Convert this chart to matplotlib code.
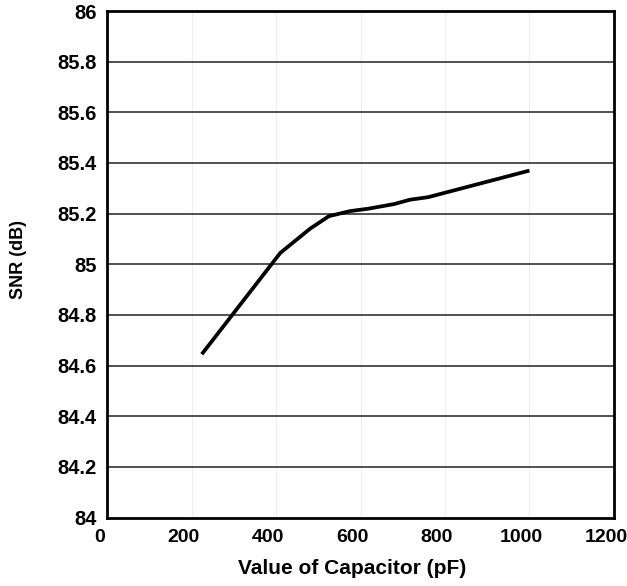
import matplotlib.pyplot as plt
import matplotlib.transforms as mtrans

plt.rcParams["font.family"] = ["Liberation Sans", "DejaVu Sans"]
plt.rcParams["font.weight"] = "bold"

# capacitor value (pF) vs SNR (dB)
cap_pf = [224, 410, 480, 525, 575, 620, 680, 717, 760, 1000]
snr_db = [84.645, 85.045, 85.14, 85.19, 85.21, 85.22, 85.238, 85.255, 85.265, 85.37]

x_ticks = [0, 200, 400, 600, 800, 1000, 1200]
y_ticks = [84, 84.2, 84.4, 84.6, 84.8, 85, 85.2, 85.4, 85.6, 85.8, 86]
y_labels = ["84", "84.2", "84.4", "84.6", "84.8", "85", "85.2", "85.4", "85.6", "85.8", "86"]

fig = plt.figure(figsize=(6.27, 5.86), dpi=100)
ax = fig.add_axes([0.171, 0.1167, 0.808, 0.8645])

# faint vertical grid, dark horizontal grid
for xv in x_ticks[1:-1]:
    ax.axvline(xv, color="#eeeeee", lw=0.8, zorder=0)
for yv in y_ticks[1:-1]:
    ax.axhline(yv, color="#222222", lw=1.1, zorder=1)

ax.plot(cap_pf, snr_db, color="black", lw=2.7, solid_capstyle="butt", zorder=3)

ax.set_xlim(0, 1200)
ax.set_ylim(84, 86)
ax.set_xticks(x_ticks)
ax.set_yticks(y_ticks)
ax.set_yticklabels(y_labels)
ax.tick_params(length=0)
ax.tick_params(axis="y", pad=7.5, labelsize=14.5)
ax.tick_params(axis="x", pad=8, labelsize=14)
for lbl in ax.get_xticklabels() + ax.get_yticklabels():
    lbl.set_fontweight("bold")

# x tick labels sit a little left of their gridlines
shift = mtrans.ScaledTranslation(-8 / 100, 0, fig.dpi_scale_trans)
for lbl in ax.get_xticklabels():
    lbl.set_transform(lbl.get_transform() + shift)

for s in ax.spines.values():
    s.set_linewidth(2)
    s.set_color("black")

ax.set_xlabel("Value of Capacitor (pF)", fontsize=15, fontweight="bold")
ax.set_ylabel("SNR (dB)", fontsize=13, fontweight="bold")
ax.xaxis.set_label_coords(0.483, -0.082)
ax.yaxis.set_label_coords(-0.159, 0.51)

fig.savefig("out.png", dpi=100)
